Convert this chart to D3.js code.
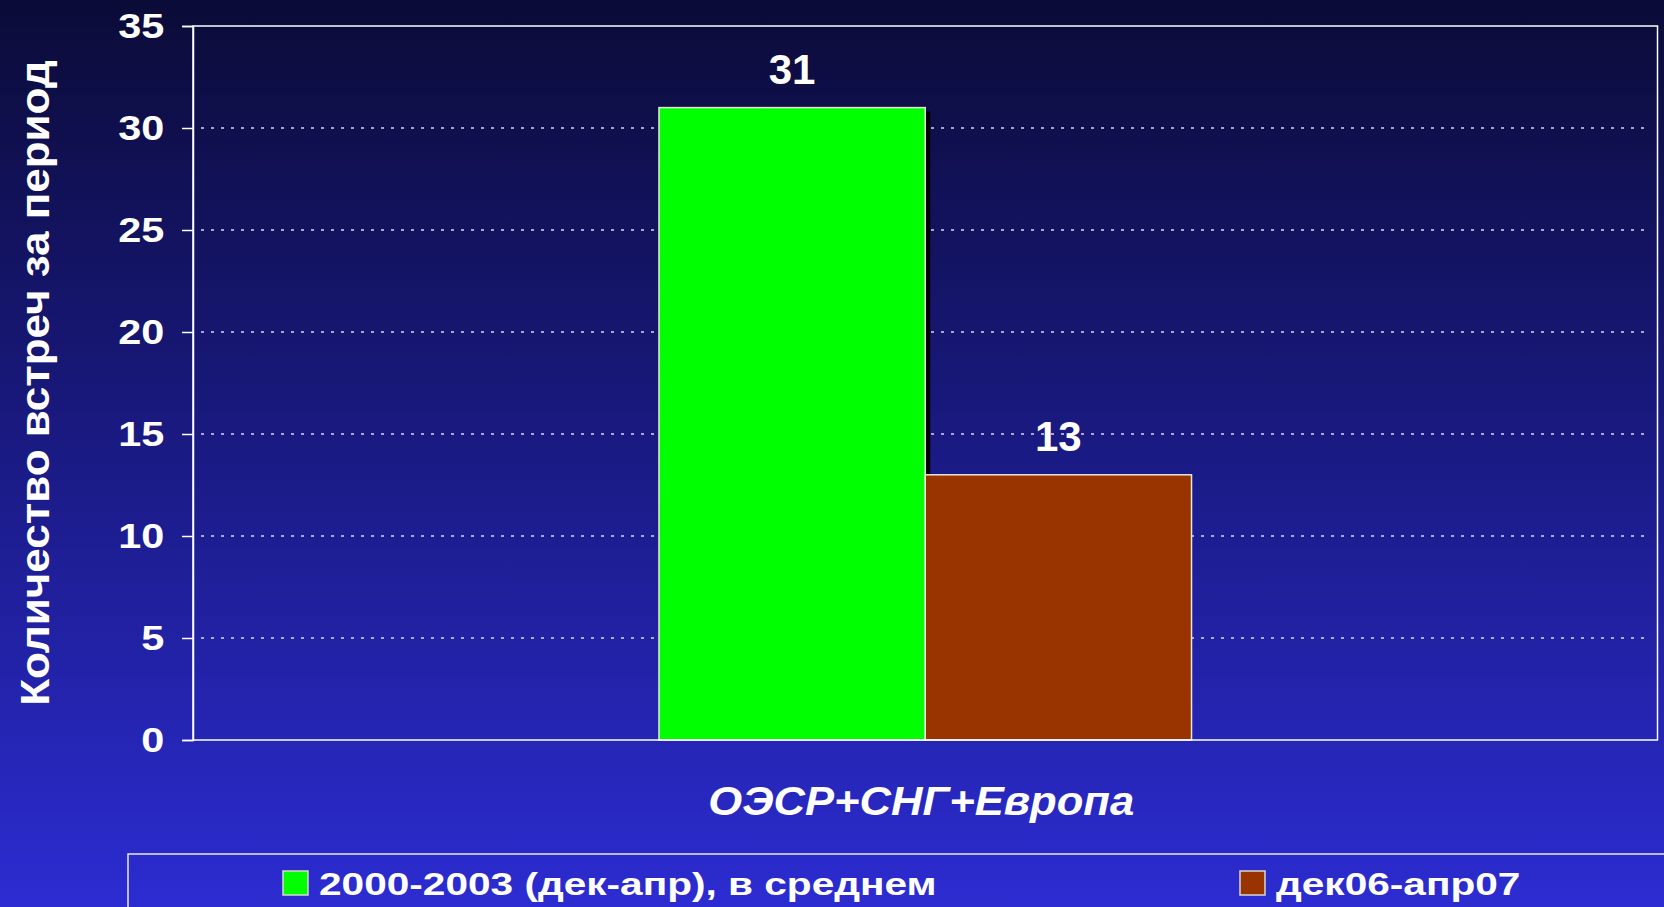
<!DOCTYPE html>
<html>
<head>
<meta charset="utf-8">
<script src="https://cdn.jsdelivr.net/npm/d3@7"></script>
<style>
  html, body { margin: 0; padding: 0; background: #1a1a80; }
  svg { display: block; }
  text { font-family: "Liberation Sans", Arial, sans-serif; fill: #ffffff; font-weight: bold; }
</style>
</head>
<body>
<svg id="chart" width="1664" height="907"></svg>
<script>

let categories = ["ОЭСР+СНГ+Европа"];
let series_names = ["2000-2003 (дек-апр), в среднем", "дек06-апр07"];
let series_colors = ["#00ff00", "#993300"];
let series_values = [[31], [13]];
let y_ticks = [0, 5, 10, 15, 20, 25, 30, 35];
let y_label = "Количество встреч за период";

let svg = d3.select("#chart"),
    margin = {top: 26, right: 6.5, bottom: 167, left: 193},
    width = svg.attr("width") - margin.left - margin.right,
    height = svg.attr("height") - margin.top - margin.bottom;

// the original slide text is stretched sideways a bit
function stretched(sel, x, y, sx, rot) {
    sel.attr("transform", "translate(" + x + "," + y + ")" + (rot ? " rotate(" + rot + ")" : "") + " scale(" + sx + ",1)");
    return sel;
}

// background gradient
let defs = svg.append("defs");
let grad = defs.append("linearGradient")
    .attr("id", "bg").attr("x1", 0).attr("y1", 0).attr("x2", 0).attr("y2", 1);
grad.append("stop").attr("offset", "0%").attr("stop-color", "#0b0b38");
grad.append("stop").attr("offset", "50%").attr("stop-color", "#1a1a84");
grad.append("stop").attr("offset", "100%").attr("stop-color", "#2c2cd2");
svg.append("rect").attr("width", 1664).attr("height", 907).attr("fill", "url(#bg)");

let x = d3.scaleBand().domain(categories).range([0, width]).padding(0);
let gap = 1.75; // excel-like gap width
let groupWidth = x.bandwidth() / (1 + gap);
let xs = d3.scaleBand().domain(d3.range(series_names.length)).range([0, groupWidth]);
let y = d3.scaleLinear().domain([0, 35]).range([height, 0]);

let g = svg.append("g")
    .attr("transform", "translate(" + margin.left + "," + margin.top + ")");

// dotted grid
g.append("g")
    .selectAll("line")
    .data(y_ticks.filter(d => d > 0 && d < 35))
    .enter().append("line")
    .attr("x1", 8).attr("x2", width - 8)
    .attr("y1", d => y(d)).attr("y2", d => y(d))
    .attr("stroke", "#d8d8e8")
    .attr("stroke-width", 1.5)
    .attr("stroke-dasharray", "3,7");

// bars
for (let s = 0; s < series_names.length; s++) {
    let bars = g.append("g");
    let bx = d => x(categories[0]) + (x.bandwidth() - groupWidth) / 2 + xs(s);
    if (s == 0) {
        // dark shadow on the right side of the first bar
        bars.selectAll("rect.shadow")
            .data(series_values[s])
            .enter().append("rect")
            .attr("class", "shadow")
            .attr("x", bx)
            .attr("width", xs.bandwidth() + 5)
            .attr("y", d => y(d) + 4)
            .attr("height", d => height - y(d) - 4)
            .attr("fill", "#000000");
    }
    bars.selectAll("rect.bar")
        .data(series_values[s])
        .enter().append("rect")
        .attr("class", "bar")
        .attr("x", bx)
        .attr("width", xs.bandwidth())
        .attr("y", d => y(d))
        .attr("height", d => height - y(d))
        .attr("fill", series_colors[s])
        .attr("stroke", "#e8e8d8")
        .attr("stroke-width", 1.5);
    bars.selectAll("text")
        .data(series_values[s])
        .enter().append("text")
        .attr("x", (d, i) => bx(d) + xs.bandwidth() / 2)
        .attr("y", d => y(d) - 24)
        .attr("text-anchor", "middle")
        .style("font-size", "42px")
        .text(d => d);
}

// plot frame
g.append("rect")
    .attr("x", 0).attr("y", 0)
    .attr("width", width).attr("height", height)
    .attr("fill", "none")
    .attr("stroke", "#ffffff")
    .attr("stroke-width", 1.5);

// y axis
let yAxis = g.append("g")
    .call(d3.axisLeft(y).tickValues(y_ticks).tickSize(11));
yAxis.select(".domain").attr("stroke", "#ffffff").attr("stroke-width", 1.5);
yAxis.selectAll(".tick line").attr("stroke", "#ffffff").attr("stroke-width", 1.5);
yAxis.selectAll(".tick text")
    .attr("fill", "#ffffff")
    .attr("x", -25)
    .attr("transform", "scale(1.15,1)")
    .style("font-family", "Liberation Sans, Arial, sans-serif")
    .style("font-weight", "bold")
    .style("font-size", "36px");

// x category label
g.append("g")
    .selectAll("text")
    .data(categories)
    .enter().append("text")
    .each(function(d) {
        stretched(d3.select(this), x(d) + x.bandwidth() / 2 - 4, height + 75, 1.09);
    })
    .attr("text-anchor", "middle")
    .style("font-size", "40px")
    .style("font-style", "italic")
    .text(d => d);

// y axis label
stretched(svg.append("text"), 49, margin.top + height / 2, 1.1, -90)
    .attr("text-anchor", "middle")
    .style("font-size", "40px")
    .text(y_label);

// legend
let legend = svg.append("g");
legend.append("rect")
    .attr("x", 128).attr("y", 854)
    .attr("width", 1600).attr("height", 100)
    .attr("fill", "none")
    .attr("stroke", "#e8e8f0")
    .attr("stroke-width", 1.5);
let legendX = [283, 1240];
for (let s = 0; s < series_names.length; s++) {
    legend.append("rect")
        .attr("x", legendX[s]).attr("y", 871)
        .attr("width", 25).attr("height", 24)
        .attr("fill", series_colors[s])
        .attr("stroke", "#d8d8d0")
        .attr("stroke-width", 1.5);
    stretched(legend.append("text"), legendX[s] + 36, 895, 1.31)
        .style("font-size", "31px")
        .text(series_names[s]);
}

</script>
</body>
</html>
